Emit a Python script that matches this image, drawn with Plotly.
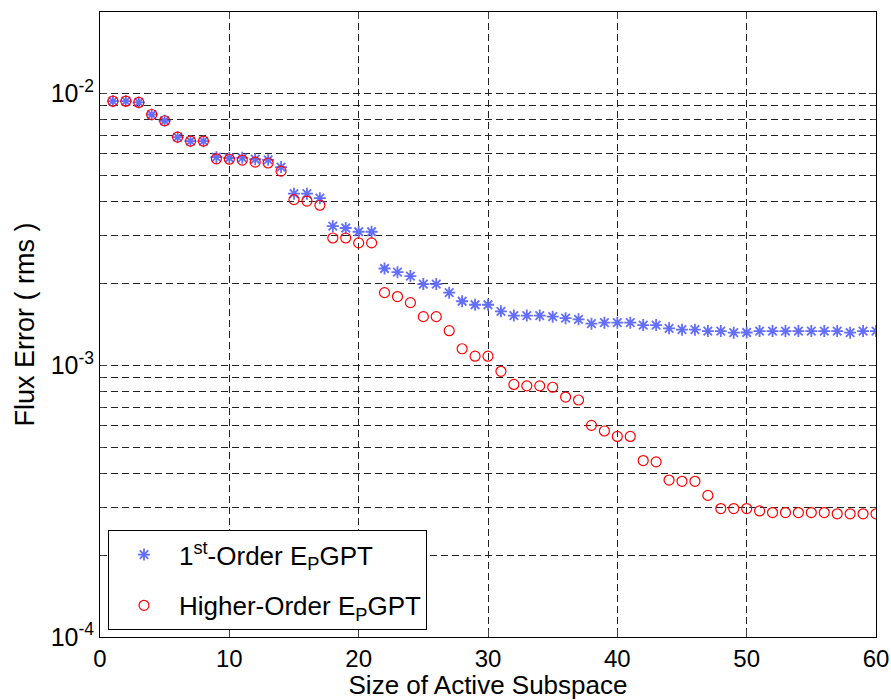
import plotly.graph_objects as go

subspace_size = list(range(1, 61))

first_order = [
    0.00937, 0.00937, 0.00927, 0.00837, 0.00794, 0.00691, 0.00668, 0.00668, 0.00583, 0.00579,
    0.00580, 0.00573, 0.00570, 0.00536, 0.00428, 0.00428, 0.00412, 0.00325, 0.00320, 0.00310,
    0.00310, 0.00227, 0.00220, 0.00213, 0.00199, 0.00199, 0.00185, 0.00172, 0.00167, 0.00167,
    0.00158, 0.001524, 0.001524, 0.001524, 0.00151, 0.00149, 0.001476, 0.001422, 0.001435, 0.001435,
    0.001435, 0.001406, 0.001406, 0.001367, 0.001352, 0.001352, 0.001336, 0.001336, 0.001318, 0.00132,
    0.001336, 0.001336, 0.001336, 0.001336, 0.001336, 0.001336, 0.001336, 0.001318, 0.001336, 0.001336,
]

higher_order = [
    0.00937, 0.00937, 0.00927, 0.00837, 0.00794, 0.00691, 0.00668, 0.00668, 0.00575, 0.00573,
    0.00569, 0.00559, 0.00555, 0.00518, 0.00407, 0.00402, 0.00388, 0.00294, 0.00294, 0.00282,
    0.00282, 0.00185, 0.00179, 0.00170, 0.00151, 0.00151, 0.00134, 0.00115, 0.00108, 0.00108,
    0.00095, 0.00085, 0.00084, 0.00084, 0.00083, 0.000764, 0.000745, 0.000601, 0.000573, 0.000547,
    0.000547, 0.000446, 0.000441, 0.000378, 0.000374, 0.000374, 0.000332, 0.000297, 0.000297, 0.000297,
    0.000291, 0.000287, 0.000287, 0.000287, 0.000287, 0.000287, 0.000284, 0.000284, 0.000284, 0.000284,
]

x_ticks = [0, 10, 20, 30, 40, 50, 60]
y_ticks = [1e-4, 1e-3, 1e-2]
y_tick_labels = ["10<sup>-4</sup>", "10<sup>-3</sup>", "10<sup>-2</sup>"]
y_minor = [k * 10.0 ** e for e in (-4, -3, -2) for k in range(2, 10)]

FONT = "Arial, 'Liberation Sans', sans-serif"

fig = go.Figure()
fig.add_trace(go.Scatter(
    x=subspace_size, y=first_order, mode="markers",
    name="1<sup>st</sup>-Order E<sub>P</sub>GPT", legendgroup="a",
    marker=dict(symbol="asterisk-open", size=10, line=dict(color="#0000ff", width=1.8)),
))
fig.add_trace(go.Scatter(
    x=subspace_size, y=higher_order, mode="markers",
    name="Higher-Order E<sub>P</sub>GPT", legendgroup="b",
    marker=dict(symbol="circle-open", size=10, color="#ff0000", line=dict(color="#ff0000", width=1.2)),
))

grid_common = dict(gridcolor="#222222", gridwidth=1, griddash="7px,4px")

fig.update_layout(
    width=891, height=700,
    margin=dict(l=100, r=15, t=12, b=63),
    paper_bgcolor="white", plot_bgcolor="white",
    font=dict(family=FONT, size=24, color="black"),
    showlegend=True,
    legend=dict(
        x=0.0103, y=0.011, xanchor="left", yanchor="bottom",
        bgcolor="white", bordercolor="black", borderwidth=1,
        font=dict(family=FONT, size=26, color="black"),
        tracegroupgap=14, itemwidth=60,
    ),
    xaxis=dict(
        range=[0, 60], tickvals=x_ticks, ticks="inside", ticklen=7,
        showline=True, linecolor="black", linewidth=1, mirror="ticks",
        showgrid=True, zeroline=False, automargin=False, **grid_common,
        tickfont=dict(size=24),
        title=dict(text="Size of Active Subspace", font=dict(size=26), standoff=10),
    ),
    yaxis=dict(
        type="log", range=[-4, -1.7], tickvals=y_ticks, ticktext=y_tick_labels,
        ticks="inside", ticklen=7,
        showline=True, linecolor="black", linewidth=1, mirror="ticks",
        showgrid=True, zeroline=False, automargin=False, **grid_common,
        tickfont=dict(size=25),
        minor=dict(tickvals=y_minor, ticks="inside", ticklen=4, showgrid=True,
                   gridcolor="#222222", griddash="7px,4px", gridwidth=1),
        title=dict(text="Flux Error ( rms )", font=dict(size=27), standoff=8),
    ),
)

fig.write_html("out.html")
